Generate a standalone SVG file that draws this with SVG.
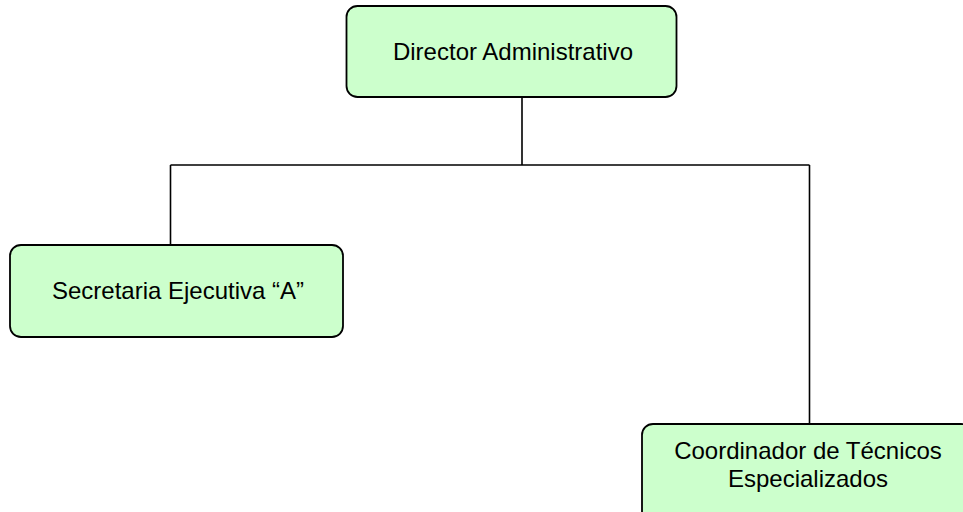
<svg xmlns="http://www.w3.org/2000/svg" width="963" height="512" viewBox="0 0 963 512">
  <style>
    .box { fill: #CCFFCC; stroke: #000; stroke-width: 1.8; }
    .lbl { font-family: "Liberation Sans", Arial, sans-serif; font-size: 24px; fill: #000; text-anchor: middle; }
    .conn { fill: none; stroke: #000; stroke-width: 1.6; }
  </style>
  <rect width="963" height="512" fill="#fff"/>
  <g id="connectors">
    <path class="conn" d="M522 97 V165 M170.5 165 H809.5 M170.5 165 V245 M809.5 165 V424"/>
  </g>
  <g id="director">
    <rect class="box" x="346.5" y="6" width="330" height="91" rx="11"/>
    <text class="lbl" x="513" y="60">Director Administrativo</text>
  </g>
  <g id="secretaria">
    <rect class="box" x="10" y="245" width="333" height="92" rx="11"/>
    <text class="lbl" x="178" y="299">Secretaria Ejecutiva “A”</text>
  </g>
  <g id="coordinador">
    <rect class="box" x="642" y="424" width="330" height="100" rx="11"/>
    <text class="lbl" x="808" y="459">Coordinador de Técnicos</text>
    <text class="lbl" x="808" y="487">Especializados</text>
  </g>
</svg>
